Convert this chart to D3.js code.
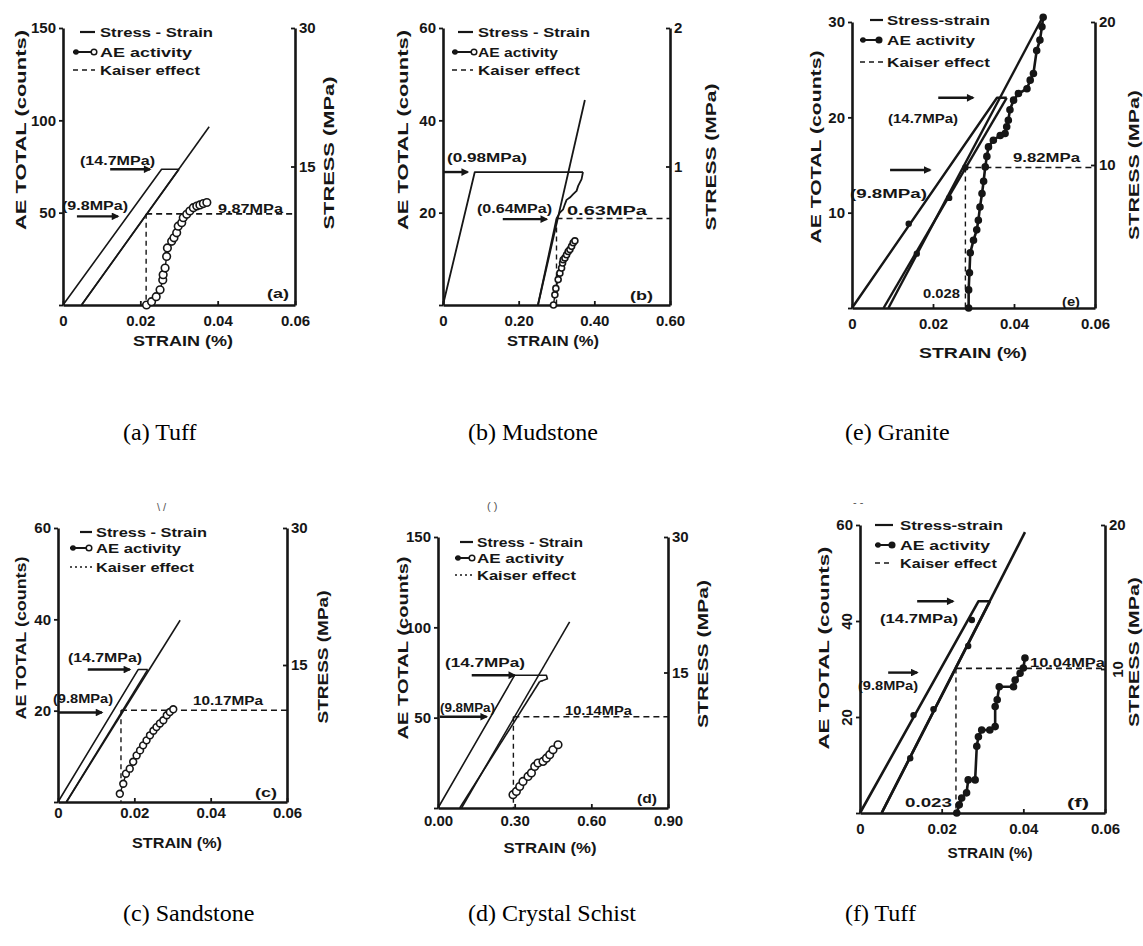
<!DOCTYPE html>
<html>
<head>
<meta charset="utf-8">
<script src="https://cdn.jsdelivr.net/npm/d3@7"></script>
<style>body{margin:0;background:#fff}</style>
</head>
<body>
<script>
// ---- panel (a) Tuff ----
const aStrainTicks = [0, 0.02, 0.04, 0.06];
const aStrainLabels = ["0", "0.02", "0.04", "0.06"];
const aCountTicks = [50, 100, 150];
const aStressTicks = [15, 30];
const aLoading = [[0, 0], [0.0255, 14.7], [0.030, 14.7]];
const aUnloading = [[0.030, 14.7], [0.0048, 0]];
const aReloading = [[0.0048, 0], [0.0378, 19.3]];
const aAEStrain = [0.0216, 0.0229, 0.0241, 0.0251, 0.0258, 0.0259, 0.0264, 0.0268, 0.0270, 0.0281, 0.0287,
                   0.0294, 0.0298, 0.0307, 0.0311, 0.0320, 0.0328, 0.0337, 0.0346, 0.0354, 0.0363, 0.0372];
const aAECount = [0, 1.8, 4.5, 8.2, 13.6, 16.4, 20, 26.3, 30.9, 34.5, 36.4,
                  39.1, 42.7, 44.6, 47.3, 49.1, 50.9, 52.7, 53.6, 54.2, 54.9, 55.5];
const aKaiser = [0.0215, 9.87];           // strain, stress
const aArrows = [[0.0122, 0.0225, 14.7], [0.0036, 0.0142, 9.6]];
const aNotes = ["(14.7MPa)", "(9.8MPa)", "9.87MPa", "(a)"];
const aLegend = ["Stress - Strain", "AE activity", "Kaiser effect"];

// ---- panel (b) Mudstone ----
const bStrainTicks = [0, 0.2, 0.4, 0.6];
const bStrainLabels = ["0", "0.20", "0.40", "0.60"];
const bCountTicks = [20, 40, 60];
const bStressTicks = [1, 2];
const bLoading = [[0, 0], [0.084, 0.96], [0.370, 0.96]];
const bCreep = [[0.370, 0.96], [0.3663, 0.909], [0.3573, 0.860], [0.3531, 0.824], [0.3441, 0.800], [0.3354, 0.776],
                [0.3266, 0.759], [0.3221, 0.727], [0.3176, 0.691], [0.3089, 0.667], [0.3002, 0.625]];
const bUnloading = [[0.3002, 0.625], [0.251, 0]];
const bReloading = [[0.251, 0], [0.375, 1.48]];
const bAEStrain = [0.292, 0.2957, 0.2983, 0.3044, 0.3089, 0.3134, 0.316, 0.3177, 0.3222, 0.3266, 0.3309, 0.3354, 0.3399, 0.3441, 0.3486];
const bAECount = [0, 2.2, 3.6, 5.5, 6.9, 8.0, 9.1, 9.8, 10.2, 10.9, 11.6, 12.0, 12.7, 13.5, 13.9];
const bKaiser = [0.300, 0.625];
const bArrows = [[0, 0.065, 0.96], [0.158, 0.274, 0.62]];
const bNotes = ["(0.98MPa)", "(0.64MPa)", "0.63MPa", "(b)"];
const bLegend = ["Stress - Strain", "AE activity", "Kaiser effect"];

// ---- panel (e) Granite ----
const eStrainTicks = [0, 0.02, 0.04, 0.06];
const eStrainLabels = ["0", "0.02", "0.04", "0.06"];
const eCountTicks = [10, 20, 30];
const eStressTicks = [10, 20];
const eLoading = [[0, 0], [0.0358, 14.7], [0.0382, 14.7]];
const eUnloading = [[0.0382, 14.7], [0.0078, 0]];
const eReloading = [[0.0090, 0], [0.0472, 20.4]];
const eMarks = [[0.0140, 5.9], [0.0160, 3.8], [0.0240, 7.7], [0.0280, 9.82]];
const eAEStrain = [0.0288, 0.0288, 0.0290, 0.0292, 0.0300, 0.0308, 0.0312, 0.0316, 0.0321, 0.0325, 0.0329, 0.0333, 0.0337, 0.0349,
                   0.0366, 0.0378, 0.0382, 0.0386, 0.0390, 0.0399, 0.0411, 0.0432, 0.0440, 0.0448, 0.0456, 0.0464, 0.0469, 0.0472];
const eAECount = [0, 1.9, 3.7, 5.8, 7.1, 8.2, 9.2, 10.6, 12.0, 13.3, 14.8, 15.9, 16.9, 17.6,
                  18.1, 18.3, 19.0, 19.7, 20.8, 21.8, 22.5, 23.0, 23.9, 24.6, 27.0, 28.1, 29.5, 30.5];
const eKaiser = [0.0280, 9.82];
const eArrows = [[0.0213, 0.0299, 14.7], [0.0094, 0.0193, 9.65]];
const eNotes = ["(14.7MPa)", "(9.8MPa)", "9.82MPa", "0.028", "(e)"];
const eLegend = ["Stress-strain", "AE activity", "Kaiser effect"];

// ---- panel (c) Sandstone ----
const cStrainTicks = [0, 0.02, 0.04, 0.06];
const cStrainLabels = ["0", "0.02", "0.04", "0.06"];
const cCountTicks = [20, 40, 60];
const cStressTicks = [15, 30];
const cLoading = [[0, 0], [0.0210, 14.5], [0.0235, 14.5]];
const cUnloading = [[0.0235, 14.5], [0.0022, 0]];
const cReloading = [[0.0022, 0], [0.0320, 19.9]];
const cAEStrain = [0.0162, 0.0171, 0.0178, 0.0188, 0.0197, 0.0206, 0.0215, 0.0223, 0.0232, 0.0241, 0.0250, 0.0258, 0.0267, 0.0276, 0.0285, 0.0293, 0.0302];
const cAECount = [1.8, 4.0, 6.2, 7.3, 8.8, 10.2, 11.3, 12.4, 13.5, 14.6, 15.6, 16.4, 17.2, 17.9, 19.0, 19.7, 20.3];
const cKaiser = [0.0165, 10.05];
const cArrows = [[0.0078, 0.0188, 14.5], [0, 0.0115, 9.8]];
const cNotes = ["(14.7MPa)", "(9.8MPa)", "10.17MPa", "(c)"];
const cLegend = ["Stress - Strain", "AE activity", "Kaiser effect"];

// ---- panel (d) Crystal Schist ----
const dStrainTicks = [0, 0.3, 0.6, 0.9];
const dStrainLabels = ["0.00", "0.30", "0.60", "0.90"];
const dCountTicks = [50, 100, 150];
const dStressTicks = [15, 30];
const dLoading = [[0, 0], [0.300, 14.7], [0.424, 14.7], [0.428, 14.3], [0.410, 14.1], [0.398, 14.0]];
const dUnloading = [[0.398, 14.0], [0.085, 0]];
const dReloading = [[0.092, 0], [0.515, 20.6]];
const dAEStrain = [0.2935, 0.3066, 0.3197, 0.3326, 0.3522, 0.3655, 0.3784, 0.3913, 0.4109, 0.4242, 0.4371, 0.4500, 0.4696];
const dAECount = [7.4, 9.2, 11.9, 14.7, 17.5, 19.4, 23.0, 24.9, 25.8, 27.6, 29.5, 32.2, 35.0];
const dKaiser = [0.295, 10.1];
const dArrows = [[0.132, 0.300, 14.7], [0.007, 0.190, 10.1]];
const dNotes = ["(14.7MPa)", "(9.8MPa)", "10.14MPa", "(d)"];
const dLegend = ["Stress - Strain", "AE activity", "Kaiser effect"];

// ---- panel (f) Tuff ----
const fStrainTicks = [0, 0.02, 0.04, 0.06];
const fStrainLabels = ["0", "0.02", "0.04", "0.06"];
const fCountTicks = [20, 40, 60];
const fStressTicks = [10, 20];
const fLoading = [[0, 0], [0.0290, 14.7], [0.0318, 14.7]];
const fUnloading = [[0.0318, 14.7], [0.0053, 0]];
const fReloading = [[0.0053, 0], [0.0404, 19.5]];
const fMarks = [[0.0131, 6.8], [0.0123, 3.8], [0.0180, 7.2], [0.0265, 11.6], [0.0274, 13.4]];
const fAEStrain = [0.0237, 0.0243, 0.0249, 0.0261, 0.0265, 0.0282, 0.0286, 0.0290, 0.0298, 0.0318,
                   0.0331, 0.0331, 0.0336, 0.0341, 0.0376, 0.0380, 0.0392, 0.0400, 0.0404];
const fAECount = [0, 1.7, 3.1, 4.2, 6.9, 6.9, 13.9, 15.9, 17.3, 17.3,
                  18.0, 22.2, 23.6, 26.3, 26.3, 27.7, 29.1, 30.2, 32.3];
const fKaiser = [0.0235, 10.04];
const fArrows = [[0.0140, 0.0228, 14.7], [0.0069, 0.0140, 9.75]];
const fNotes = ["(14.7MPa)", "(9.8MPa)", "10.04MPa", "0.023", "(f)"];
const fLegend = ["Stress-strain", "AE activity", "Kaiser effect"];

const captions = ["(a) Tuff", "(b) Mudstone", "(e) Granite", "(c) Sandstone", "(d) Crystal Schist", "(f) Tuff"];
const axisTitles = ["AE TOTAL (counts)", "STRESS (MPa)", "STRAIN (%)"];

// ---- layout (pixels) ----
const layouts = {
  a: {box: [63, 295, 305, 28], pad: 10, legend: {dash: [80, 95], mk: [73, 97], tx: 100, ys: [32, 52, 70], lens: [113, 92, 100]},
      yTitle: [20, 130, 200], sTitle: [328, 153, 153], xTitle: [183, 346, 100],
      notes: [[80, 165, 75], [62, 210, 66], [218, 213, 65], [267, 298, 22]], filled: false, lw: 1.6, r: 3.8, kDash: "5,4"},
  b: {box: [443, 670, 305, 28], pad: 10, legend: {dash: [458, 473], mk: [452, 477], tx: 478, ys: [32, 52, 70], lens: [112, 80, 102]},
      yTitle: [402, 130, 200], sTitle: [710, 157, 147], xTitle: [553, 346, 92],
      notes: [[447, 162, 80], [477, 213, 75], [567, 215, 80], [630, 300, 23]], filled: false, lw: 1.8, r: 3, kDash: "5,4"},
  e: {box: [852, 1095, 308, 22], pad: 10, legend: {dash: [870, 883], mk: [860, 882], tx: 887, ys: [20, 40, 62], lens: [103, 88, 103]},
      yTitle: [815, 147, 193], sTitle: [1133, 165, 150], xTitle: [973, 358, 108],
      notes: [[888, 123, 70], [850, 198, 77], [1013, 162, 67], [923, 298, 37], [1062, 306, 18]], filled: true, lw: 2.4, r: 3, kDash: "5,4"},
  c: {box: [58, 287, 802, 528], pad: 5, legend: {dash: [80, 92], mk: [70, 92], tx: 96, ys: [532, 548, 567], lens: [111, 85, 98]},
      yTitle: [20, 638, 163], sTitle: [322, 657, 133], xTitle: [177, 848, 90],
      notes: [[68, 662, 74], [53, 703, 60], [193, 705, 70], [255, 797, 22]], filled: false, lw: 1.6, r: 3.4, kDash: "2,3"},
  d: {box: [438, 668, 808, 537], pad: 7, legend: {dash: [460, 473], mk: [455, 475], tx: 477, ys: [542, 558, 575], lens: [106, 87, 99]},
      yTitle: [402, 648, 183], sTitle: [702, 654, 148], xTitle: [550, 853, 93],
      notes: [[445, 667, 80], [440, 712, 55], [565, 715, 67], [637, 803, 20]], filled: false, lw: 1.6, r: 3.8, kDash: "2,3"},
  f: {box: [860, 1105, 813, 525], pad: 10, legend: {dash: [875, 893], mk: [875, 895], tx: 900, ys: [525, 545, 563], lens: [103, 90, 97]},
      yTitle: [823, 648, 203], sTitle: [1133, 652, 150], xTitle: [990, 858, 85],
      notes: [[880, 623, 78], [858, 690, 60], [1030, 667, 75], [905, 807, 47], [1067, 807, 22]], filled: true, lw: 2.6, r: 3, kDash: "5,4",
      rotCount: [20, 40], rotStress: [10]}
};
const captionPos = [[123, 440], [468, 440], [845, 440], [123, 921], [468, 921], [845, 921]];

const panels = [
  {id: "a", st: aStrainTicks, sl: aStrainLabels, ct: aCountTicks, pt: aStressTicks, paths: [aLoading, aUnloading, aReloading],
   marks: [], aeX: aAEStrain, aeY: aAECount, kaiser: aKaiser, arrows: aArrows, notes: aNotes, legend: aLegend},
  {id: "b", st: bStrainTicks, sl: bStrainLabels, ct: bCountTicks, pt: bStressTicks, paths: [bLoading, bCreep, bUnloading, bReloading],
   marks: [], aeX: bAEStrain, aeY: bAECount, kaiser: bKaiser, arrows: bArrows, notes: bNotes, legend: bLegend},
  {id: "e", st: eStrainTicks, sl: eStrainLabels, ct: eCountTicks, pt: eStressTicks, paths: [eLoading, eUnloading, eReloading],
   marks: eMarks, aeX: eAEStrain, aeY: eAECount, kaiser: eKaiser, arrows: eArrows, notes: eNotes, legend: eLegend},
  {id: "c", st: cStrainTicks, sl: cStrainLabels, ct: cCountTicks, pt: cStressTicks, paths: [cLoading, cUnloading, cReloading],
   marks: [], aeX: cAEStrain, aeY: cAECount, kaiser: cKaiser, arrows: cArrows, notes: cNotes, legend: cLegend},
  {id: "d", st: dStrainTicks, sl: dStrainLabels, ct: dCountTicks, pt: dStressTicks, paths: [dLoading, dUnloading, dReloading],
   marks: [], aeX: dAEStrain, aeY: dAECount, kaiser: dKaiser, arrows: dArrows, notes: dNotes, legend: dLegend},
  {id: "f", st: fStrainTicks, sl: fStrainLabels, ct: fCountTicks, pt: fStressTicks, paths: [fLoading, fUnloading, fReloading],
   marks: fMarks, aeX: fAEStrain, aeY: fAECount, kaiser: fKaiser, arrows: fArrows, notes: fNotes, legend: fLegend}
];

const INK = "#161616";
const FONT = "'Liberation Sans', Arial, sans-serif";

const svg = d3.select("body").append("svg")
    .attr("width", 1143).attr("height", 946)
    .style("background", "#fff");

svg.append("defs").append("marker")
    .attr("id", "head").attr("viewBox", "0 0 10 10")
    .attr("refX", 8).attr("refY", 5)
    .attr("markerWidth", 4.2).attr("markerHeight", 3.2)
    .attr("orient", "auto")
  .append("path").attr("d", "M0,0L10,5L0,10z").attr("fill", INK);

function styleAxis(g) {
  g.attr("font-family", FONT).attr("font-size", 15).attr("font-weight", "bold");
  g.select(".domain").attr("stroke", INK).attr("stroke-width", 2.6);
  g.selectAll(".tick line").attr("stroke", INK).attr("stroke-width", 1.8);
  g.selectAll(".tick text").attr("fill", INK);
}

function addText(g, str, x, y, len, size) {
  return g.append("text").text(str)
    .attr("x", x).attr("y", y)
    .attr("font-family", FONT).attr("font-weight", "bold")
    .attr("font-size", size || 13).attr("fill", INK)
    .attr("textLength", len).attr("lengthAdjust", "spacingAndGlyphs");
}

function drawPanel(p) {
  const L = layouts[p.id];
  const [left, right, bottom, top] = L.box;
  const g = svg.append("g").attr("class", "panel-" + p.id);

  const x = d3.scaleLinear().domain([0, d3.max(p.st)]).range([left, right]);
  const yc = d3.scaleLinear().domain([0, d3.max(p.ct)]).range([bottom, top]);
  const ys = d3.scaleLinear().domain([0, d3.max(p.pt)]).range([bottom, top]);

  // axes
  const xg = g.append("g").attr("transform", `translate(0,${bottom})`)
    .call(d3.axisBottom(x).tickValues(p.st).tickFormat(d => p.sl[p.st.indexOf(d)])
      .tickSizeInner(-4).tickSizeOuter(0).tickPadding(L.pad));
  styleAxis(xg);

  const yg = g.append("g").attr("transform", `translate(${left},0)`)
    .call(d3.axisLeft(yc).tickValues([0].concat(p.ct)).tickFormat(d => d === 0 ? "" : String(d))
      .tickSize(4).tickSizeOuter(0).tickPadding(3));
  styleAxis(yg);

  const sg = g.append("g").attr("transform", `translate(${right},0)`)
    .call(d3.axisRight(ys).tickValues(p.pt).tickFormat(d => String(d))
      .tickSize(-4).tickSizeOuter(0).tickPadding(4));
  styleAxis(sg);

  // some tick labels printed sideways in (f)
  if (L.rotCount) {
    yg.selectAll(".tick text").filter(d => L.rotCount.includes(d))
      .attr("transform", "rotate(-90)").attr("x", 0).attr("y", -8)
      .attr("dy", 0).attr("text-anchor", "middle");
  }
  if (L.rotStress) {
    sg.selectAll(".tick text").filter(d => L.rotStress.includes(d))
      .attr("transform", "rotate(-90)").attr("x", 0).attr("y", 18)
      .attr("dy", 0).attr("text-anchor", "middle");
  }

  // axis titles
  addText(g, axisTitles[0], L.yTitle[0], L.yTitle[1], L.yTitle[2], 15)
    .attr("text-anchor", "middle").attr("dominant-baseline", "central")
    .attr("transform", `rotate(-90,${L.yTitle[0]},${L.yTitle[1]})`);
  addText(g, axisTitles[1], L.sTitle[0], L.sTitle[1], L.sTitle[2], 15)
    .attr("text-anchor", "middle").attr("dominant-baseline", "central")
    .attr("transform", `rotate(-90,${L.sTitle[0]},${L.sTitle[1]})`);
  addText(g, axisTitles[2], L.xTitle[0], L.xTitle[1], L.xTitle[2], 15)
    .attr("text-anchor", "middle");

  // stress-strain curves
  const stressLine = d3.line().x(d => x(d[0])).y(d => ys(d[1]));
  g.selectAll("path.ss").data(p.paths).enter().append("path")
    .attr("class", "ss").attr("d", stressLine)
    .attr("fill", "none").attr("stroke", INK)
    .attr("stroke-width", L.lw).attr("stroke-linejoin", "round");
  g.selectAll("circle.mk").data(p.marks).enter().append("circle")
    .attr("class", "mk").attr("cx", d => x(d[0])).attr("cy", d => ys(d[1]))
    .attr("r", 3.2).attr("fill", INK);

  // Kaiser effect
  const [kx, ks] = p.kaiser;
  g.append("line").attr("x1", x(kx)).attr("x2", right).attr("y1", ys(ks)).attr("y2", ys(ks))
    .attr("stroke", INK).attr("stroke-width", 1.6).attr("stroke-dasharray", "6,4");
  g.append("line").attr("x1", x(kx)).attr("x2", x(kx)).attr("y1", ys(ks)).attr("y2", bottom)
    .attr("stroke", INK).attr("stroke-width", 1.4).attr("stroke-dasharray", "5,4");

  // AE activity
  const ae = p.aeX.map((v, i) => [v, p.aeY[i]]);
  g.append("path").datum(ae)
    .attr("d", d3.line().x(d => x(d[0])).y(d => yc(d[1])))
    .attr("fill", "none").attr("stroke", INK)
    .attr("stroke-width", L.filled ? 2.6 : 1.4);
  g.selectAll("circle.ae").data(ae).enter().append("circle")
    .attr("class", "ae").attr("cx", d => x(d[0])).attr("cy", d => yc(d[1]))
    .attr("r", L.r)
    .attr("fill", L.filled ? INK : "#fff")
    .attr("stroke", INK).attr("stroke-width", 1.6);

  // load arrows
  g.selectAll("line.arrow").data(p.arrows).enter().append("line")
    .attr("class", "arrow")
    .attr("x1", d => x(d[0])).attr("x2", d => x(d[1]))
    .attr("y1", d => ys(d[2])).attr("y2", d => ys(d[2]))
    .attr("stroke", INK).attr("stroke-width", 2.4)
    .attr("marker-end", "url(#head)");

  // annotation texts
  p.notes.forEach((t, i) => {
    const [nx, ny, len] = L.notes[i];
    addText(g, t, nx, ny, len, 13);
  });

  // legend
  const lg = L.legend;
  g.append("line").attr("x1", lg.dash[0]).attr("x2", lg.dash[1])
    .attr("y1", lg.ys[0]).attr("y2", lg.ys[0]).attr("stroke", INK).attr("stroke-width", 2.2);
  g.append("line").attr("x1", lg.mk[0]).attr("x2", lg.mk[1])
    .attr("y1", lg.ys[1]).attr("y2", lg.ys[1]).attr("stroke", INK).attr("stroke-width", 2);
  g.append("circle").attr("cx", lg.mk[0] + 3).attr("cy", lg.ys[1]).attr("r", 2.8).attr("fill", INK);
  g.append("circle").attr("cx", lg.mk[1] - 3).attr("cy", lg.ys[1]).attr("r", 2.8)
    .attr("fill", L.filled ? INK : "#fff").attr("stroke", INK).attr("stroke-width", 1.5);
  g.append("line").attr("x1", lg.mk[0]).attr("x2", lg.dash[1])
    .attr("y1", lg.ys[2]).attr("y2", lg.ys[2]).attr("stroke", INK).attr("stroke-width", 1.6)
    .attr("stroke-dasharray", L.kDash);
  p.legend.forEach((t, i) => {
    addText(g, t, lg.tx, lg.ys[i] + 5, lg.lens[i], 13.5);
  });
}

panels.forEach(drawPanel);

// leftover marks of the scan above the lower panels
svg.append("text").text("\\  /").attr("x", 157).attr("y", 511).attr("font-size", 11)
  .attr("font-family", FONT).attr("fill", "#555");
svg.append("text").text("(  )").attr("x", 487).attr("y", 510).attr("font-size", 11)
  .attr("font-family", FONT).attr("fill", "#555");
svg.append("text").text("- -").attr("x", 853).attr("y", 506).attr("font-size", 11)
  .attr("font-family", FONT).attr("fill", "#555");

// captions
svg.selectAll("text.caption").data(captions).enter().append("text")
  .attr("class", "caption")
  .attr("x", (d, i) => captionPos[i][0]).attr("y", (d, i) => captionPos[i][1])
  .attr("font-family", "'Liberation Serif', 'Times New Roman', serif")
  .attr("font-size", 24).attr("fill", "#000")
  .text(d => d);
</script>
</body>
</html>
